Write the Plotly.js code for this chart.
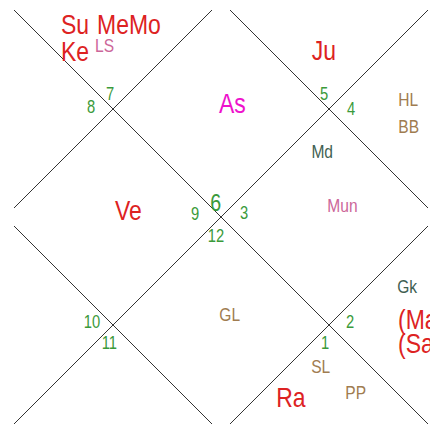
<!DOCTYPE html>
<html>
<head>
<meta charset="utf-8">
<script src="https://cdn.plot.ly/plotly-3.0.1.min.js"></script>
<style>html,body{margin:0;padding:0;background:#fff;}#chart{width:430px;height:429px;}</style>
</head>
<body>
<div id="chart"></div>
<script>
// ---- data ----
var signNumbers = ["7","8","5","4","6","9","3","12","10","11","2","1"];
var planetsMain = ["Su","MeMo","Ke","As","Ju","Ve","Ra","(Ma)","(Sa)"];
var upagrahas = ["LS","HL","BB","Md","Mun","Gk","GL","SL","PP"];

// ---- layout (positions / styles) ----
var FONT = "'Liberation Sans', Arial, sans-serif";
var SQUEEZE = 0.82;
var frame = {cx: 221, cy: 217, h: 216, inset: 9};
var signPos = {
  "7": [109.5, 94], "8": [91, 107], "5": [324, 94], "4": [350.5, 108.5],
  "6": [215, 202], "9": [194.5, 214], "3": [244, 213], "12": [216, 236],
  "10": [92, 322], "11": [109.5, 342.5], "2": [349.5, 322], "1": [324.5, 342.5]
};
var planetPos = {
  "Su": [59, 24, "left"], "MeMo": [95, 24, "left"], "Ke": [59, 51, "left"],
  "As": [232.5, 103, "center"], "Ju": [323.5, 50, "center"], "Ve": [128, 210, "center"],
  "Ra": [291, 397, "center"], "(Ma)": [396, 319, "left"], "(Sa)": [396, 343, "left"]
};
var upaPos = {
  "LS": [93, 45.5, "left"], "HL": [407.5, 99.5], "BB": [408, 126.5], "Md": [321.5, 151],
  "Mun": [342, 205], "Gk": [407.5, 286.5], "GL": [229.5, 314], "SL": [320, 366], "PP": [355, 392.5]
};
var upaColor = {LS: "#cc6699", HL: "#a07c50", BB: "#a07c50", Md: "#3f5f52", Mun: "#cc6699",
  Gk: "#3f5f52", GL: "#a07c50", SL: "#a07c50", PP: "#a07c50"};

// ---- geometry of chart lines ----
function seg(a, b) {
  var dx = b[0] - a[0], dy = b[1] - a[1];
  var L = Math.sqrt(dx * dx + dy * dy);
  var k = frame.inset * Math.SQRT2 / L;
  return [[a[0] + dx * k, a[1] + dy * k], [b[0] - dx * k, b[1] - dy * k]];
}
var c = frame, x0 = c.cx - c.h, x1 = c.cx + c.h, y0 = c.cy - c.h, y1 = c.cy + c.h;
var segments = [
  seg([x0, y0], [x1, y1]), seg([x1, y0], [x0, y1]),
  seg([c.cx, y0], [x0, c.cy]), seg([c.cx, y0], [x1, c.cy]),
  seg([x0, c.cy], [c.cx, y1]), seg([x1, c.cy], [c.cx, y1])
];
var lx = [], ly = [];
segments.forEach(function (s) { lx.push(s[0][0], s[1][0], null); ly.push(s[0][1], s[1][1], null); });

var traces = [{
  x: lx, y: ly, mode: "lines", type: "scatter",
  line: {color: "#333333", width: 1}, hoverinfo: "skip", showlegend: false
}];

var ann = [];
signNumbers.forEach(function (n) {
  var p = signPos[n];
  ann.push({x: p[0], y: p[1], text: n, showarrow: false, xanchor: "center", yanchor: "middle",
    font: {family: FONT, size: n === "6" ? 24 : 18, color: "#3a9a3a"}});
});
planetsMain.forEach(function (n) {
  var p = planetPos[n];
  var col = n === "As" ? "#ee11cc" : "#dd2222";
  ann.push({x: p[0], y: p[1], text: n, showarrow: false, xanchor: p[2], yanchor: "middle",
    font: {family: FONT, size: 28, color: col}});
});
upagrahas.forEach(function (n) {
  var p = upaPos[n];
  ann.push({x: p[0], y: p[1], text: n, showarrow: false, xanchor: p[2] || "center", yanchor: "middle",
    font: {family: FONT, size: 19, color: upaColor[n]}});
});

var layout = {
  width: 430, height: 429,
  margin: {l: 0, r: 0, t: 0, b: 0},
  paper_bgcolor: "#ffffff", plot_bgcolor: "#ffffff",
  xaxis: {range: [0, 430], visible: false, fixedrange: true},
  yaxis: {range: [429, 0], visible: false, fixedrange: true},
  annotations: ann, showlegend: false
};

function condense() {
  // emulate the narrow face of the original chart (no narrow font installed)
  var groups = document.querySelectorAll("#chart g.annotation");
  groups.forEach(function (g) {
    var idx = +g.getAttribute("data-index");
    var a = ann[idx];
    var t = g.querySelector("text.annotation-text");
    if (!t || !a) return;
    var origin = a.xanchor === "left" ? "left center" : (a.xanchor === "right" ? "right center" : "center center");
    t.style.transformBox = "fill-box";
    t.style.transformOrigin = origin;
    t.style.transform = "scaleX(" + SQUEEZE + ")";
  });
}
Plotly.newPlot("chart", traces, layout, {staticPlot: true, displayModeBar: false}).then(condense);
</script>
</body>
</html>
